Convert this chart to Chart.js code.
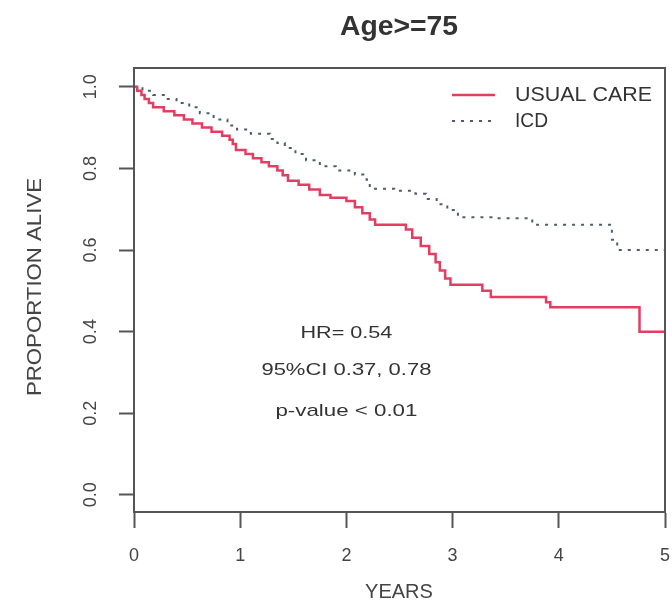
<!DOCTYPE html>
<html>
<head>
<meta charset="utf-8">
<script src="https://cdn.jsdelivr.net/npm/chart.js@4.4.1/dist/chart.umd.min.js"></script>
<style>
  html, body { margin: 0; padding: 0; background: #fff; }
</style>
</head>
<body>
<canvas id="km" width="672" height="610"></canvas>
<script>
// chart data
const chartTitle = 'Age>=75';
const seriesNames = ['USUAL CARE', 'ICD'];
const xTitle = 'YEARS';
const yTitle = 'PROPORTION ALIVE';

const usualYears = [0, 0.03, 0.07, 0.10, 0.14, 0.18, 0.28, 0.38, 0.47, 0.55, 0.64, 0.73, 0.83, 0.90, 0.93, 0.96,
  1.05, 1.12, 1.20, 1.27, 1.35, 1.40, 1.45, 1.55, 1.65, 1.75, 1.85, 2.00, 2.08, 2.15, 2.22, 2.27,
  2.56, 2.62, 2.70, 2.78, 2.84, 2.88, 2.93, 2.98, 3.28, 3.36, 3.88, 3.92, 4.76, 5.0];
const usualSurv = [1.0, 0.99, 0.98, 0.97, 0.96, 0.95, 0.94, 0.93, 0.92, 0.91, 0.90, 0.89, 0.88, 0.87, 0.86, 0.845,
  0.835, 0.825, 0.815, 0.805, 0.795, 0.783, 0.77, 0.76, 0.748, 0.735, 0.728, 0.72, 0.705, 0.69, 0.675, 0.662,
  0.65, 0.63, 0.61, 0.59, 0.57, 0.55, 0.53, 0.515, 0.50, 0.485, 0.472, 0.46, 0.40, 0.40];

const icdYears = [0, 0.08, 0.18, 0.28, 0.40, 0.52, 0.62, 0.75, 0.88, 0.97, 1.10, 1.28, 1.35, 1.42, 1.52, 1.62,
  1.75, 1.90, 2.08, 2.19, 2.22, 2.45, 2.65, 2.75, 2.85, 2.95, 3.05, 3.40, 3.75, 4.50, 4.55, 5.0];
const icdSurv = [1.0, 0.99, 0.98, 0.97, 0.96, 0.95, 0.935, 0.92, 0.905, 0.895, 0.885, 0.872, 0.862, 0.85, 0.835, 0.82,
  0.805, 0.795, 0.785, 0.772, 0.75, 0.745, 0.738, 0.725, 0.712, 0.698, 0.68, 0.678, 0.662, 0.625, 0.60, 0.60];

const xTicks = [0, 1, 2, 3, 4, 5];
const yTicks = [0, 0.2, 0.4, 0.6, 0.8, 1.0];
const yTickLabels = ['0.0', '0.2', '0.4', '0.6', '0.8', '1.0'];
const statLines = ['HR= 0.54', '95%CI 0.37, 0.78', 'p-value < 0.01'];

const red = '#e43d62';
const slate = '#4d5c6e';
const axisGrey = '#555';
const textGrey = '#333';

// draw text, optionally squeezed/stretched to a width
function txt(ctx, s, x, y, font, o = {}) {
  ctx.save();
  ctx.font = font;
  ctx.fillStyle = o.color || textGrey;
  ctx.translate(x, y);
  if (o.rot) ctx.rotate(o.rot);
  if (o.width) ctx.scale(o.width / ctx.measureText(s).width, 1);
  ctx.textAlign = o.align || 'center';
  ctx.textBaseline = o.baseline || 'middle';
  ctx.fillText(s, 0, 0);
  ctx.restore();
}

const rPlot = {
  id: 'rPlot',
  afterDraw(chart) {
    const { ctx, chartArea: a, scales } = chart;
    const xs = scales.x, ys = scales.y;
    const F = '"Liberation Sans", Arial, sans-serif';

    // box
    ctx.save();
    ctx.strokeStyle = axisGrey;
    ctx.lineWidth = 2;
    ctx.strokeRect(a.left, a.top, a.right - a.left, a.bottom - a.top);
    ctx.restore();

    // title
    txt(ctx, chartTitle, 399, 35, 'bold 28px ' + F, { baseline: 'alphabetic', width: 118 });

    // tick labels
    xTicks.forEach(v => txt(ctx, String(v), xs.getPixelForValue(v), 556, '18px ' + F, { color: '#444' }));
    yTicks.forEach((v, i) => txt(ctx, yTickLabels[i], 91, ys.getPixelForValue(v), '18px ' + F,
      { rot: -Math.PI / 2, color: '#444' }));

    // axis titles
    txt(ctx, xTitle, 399, 592, '20px ' + F, { color: '#444' });
    txt(ctx, yTitle, 35, 287, '21px ' + F, { rot: -Math.PI / 2, color: '#444', width: 218 });

    // statistics
    const sx = xs.getPixelForValue(2);
    const widths = [92, 170, 142];
    [0.397, 0.306, 0.204].forEach((v, i) =>
      txt(ctx, statLines[i], sx, ys.getPixelForValue(v), '17px ' + F, { width: widths[i] }));

    // legend
    ctx.save();
    ctx.lineWidth = 2.5;
    ctx.strokeStyle = red;
    ctx.beginPath(); ctx.moveTo(452, 95); ctx.lineTo(495, 95); ctx.stroke();
    ctx.lineWidth = 2;
    ctx.strokeStyle = slate;
    ctx.setLineDash([3, 6]);
    ctx.beginPath(); ctx.moveTo(452, 121); ctx.lineTo(492, 121); ctx.stroke();
    ctx.restore();
    txt(ctx, seriesNames[0], 515, 95, '21px ' + F, { align: 'left', width: 137 });
    txt(ctx, seriesNames[1], 515, 121, '21px ' + F, { align: 'left', width: 33 });
  }
};

const ctx = document.getElementById('km').getContext('2d');
new Chart(ctx, {
  type: 'line',
  data: {
    datasets: [
      {
        label: seriesNames[0],
        data: usualYears.map((x, i) => ({ x, y: usualSurv[i] })),
        borderColor: red,
        borderWidth: 2.5,
        stepped: true,
        pointRadius: 0
      },
      {
        label: seriesNames[1],
        data: icdYears.map((x, i) => ({ x, y: icdSurv[i] })),
        borderColor: slate,
        borderWidth: 2,
        borderDash: [3, 6],
        stepped: true,
        pointRadius: 0
      }
    ]
  },
  options: {
    responsive: false,
    animation: false,
    layout: { padding: { top: 68, right: 7, left: 0, bottom: 0 } },
    plugins: { legend: { display: false }, tooltip: { enabled: false } },
    scales: {
      x: {
        type: 'linear',
        min: 0,
        max: 5,
        afterBuildTicks: s => { s.ticks = xTicks.map(v => ({ value: v })); },
        afterFit: s => { s.height = 98; },
        ticks: { display: false },
        grid: { drawOnChartArea: false, drawTicks: true, tickLength: 16, tickColor: axisGrey, tickWidth: 2 },
        border: { display: true, color: axisGrey, width: 2 }
      },
      y: {
        type: 'linear',
        min: -0.042,
        max: 1.046,
        afterBuildTicks: s => { s.ticks = yTicks.map(v => ({ value: v })); },
        afterFit: s => { s.width = 134; },
        ticks: { display: false },
        grid: { drawOnChartArea: false, drawTicks: true, tickLength: 15, tickColor: axisGrey, tickWidth: 2 },
        border: { display: true, color: axisGrey, width: 2 }
      }
    }
  },
  plugins: [rPlot]
});
</script>
</body>
</html>
